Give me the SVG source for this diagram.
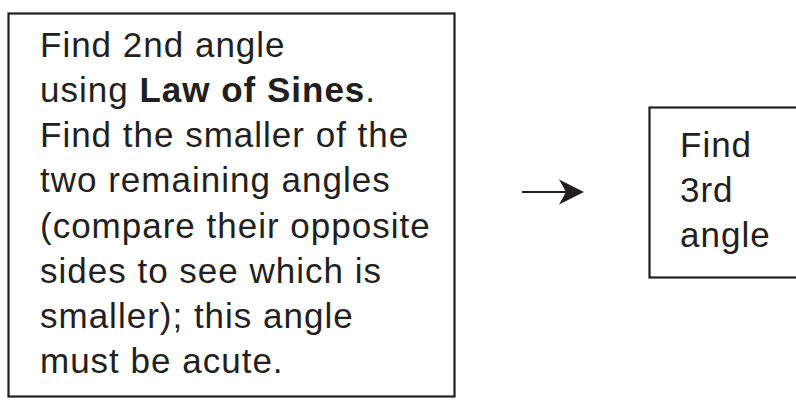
<svg xmlns="http://www.w3.org/2000/svg" width="796" height="403" viewBox="0 0 796 403">
<style>
.box{fill:#fff;stroke:#231f20;stroke-width:2.2}
.t{font-family:"Liberation Sans",Arial,sans-serif;font-size:35px;letter-spacing:1px;fill:#231f20}
.b{font-weight:bold;letter-spacing:1px}
</style>
<rect width="796" height="403" fill="#fff"/>
<g id="node-law-of-sines">
<rect class="box" x="8.5" y="13.5" width="446" height="383"/>
<text class="t" x="40">
<tspan x="40" y="57">Find 2nd angle</tspan>
<tspan x="40" y="102">using <tspan class="b">Law of Sines</tspan>.</tspan>
<tspan x="40" y="147">Find the smaller of the</tspan>
<tspan x="40" y="192">two remaining angles</tspan>
<tspan x="40" y="238">(compare their opposite</tspan>
<tspan x="40" y="283">sides to see which is</tspan>
<tspan x="40" y="328">smaller); this angle</tspan>
<tspan x="40" y="373">must be acute.</tspan>
</text>
</g>
<g id="node-third-angle">
<rect class="box" x="649.5" y="107.5" width="160" height="170"/>
<text class="t">
<tspan x="680" y="157">Find</tspan>
<tspan x="680" y="202">3rd</tspan>
<tspan x="680" y="247">angle</tspan>
</text>
</g>
<g id="connectors">
<line x1="522" y1="192" x2="566" y2="192" stroke="#231f20" stroke-width="2"/>
<path d="M584,192 L559,179.5 L566,192 L559,204.5 Z" fill="#231f20"/>
</g>
</svg>
